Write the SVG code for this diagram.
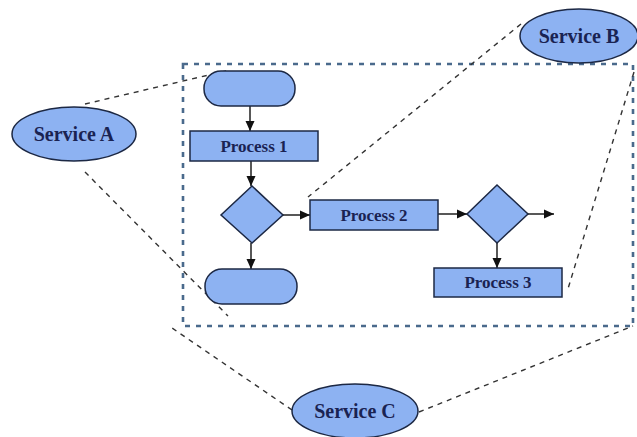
<svg xmlns="http://www.w3.org/2000/svg" width="637" height="437" viewBox="0 0 637 437">
<defs>
<marker id="ah" viewBox="0 0 10 10" refX="10" refY="5" markerWidth="10" markerHeight="10" markerUnits="userSpaceOnUse" orient="auto">
<path d="M0,0.5 L10,5 L0,9.5 Z" fill="#111"/>
</marker>
</defs>
<style>
.shape{fill:#8db2f2;stroke:#1c2844;stroke-width:1.5}
.lbl{font-family:"Liberation Serif","Times New Roman",serif;font-weight:bold;fill:#1a2352;text-anchor:middle}
.svc{font-size:20px}
.prc{font-size:17px}
.flow{stroke:#111;stroke-width:1.4;fill:none;marker-end:url(#ah)}
.link{stroke:#333;stroke-width:1.4;fill:none;stroke-dasharray:5,5}
.box{fill:none;stroke:#4a6a8c;stroke-width:2.6;stroke-dasharray:5,6}
</style>
<rect class="box" x="183" y="64" width="450" height="262"/>
<g id="connectors">
<line class="link" x1="85" y1="104" x2="230" y2="70"/>
<line class="link" x1="85" y1="172" x2="228" y2="316"/>
<line class="link" x1="521" y1="24" x2="308" y2="197"/>
<line class="link" x1="634" y1="72" x2="567" y2="292"/>
<line class="link" x1="292" y1="410" x2="172" y2="328"/>
<line class="link" x1="419" y1="412" x2="633" y2="326"/>
<line class="flow" x1="250" y1="106" x2="250" y2="131"/>
<line class="flow" x1="251" y1="161" x2="251" y2="186"/>
<line class="flow" x1="251" y1="243" x2="251" y2="269"/>
<line class="flow" x1="283" y1="215" x2="310" y2="215"/>
<line class="flow" x1="438" y1="214" x2="467" y2="214"/>
<line class="flow" x1="528" y1="214" x2="554" y2="214"/>
<line class="flow" x1="497" y1="243" x2="497" y2="268"/>
</g>
<g id="serviceA"><ellipse class="shape" cx="74" cy="134" rx="62" ry="27"/><text class="lbl svc" x="74" y="141">Service A</text></g>
<g id="serviceB"><ellipse class="shape" cx="579" cy="36" rx="59" ry="27"/><text class="lbl svc" x="579" y="43">Service B</text></g>
<g id="serviceC"><ellipse class="shape" cx="355" cy="411" rx="63" ry="27"/><text class="lbl svc" x="355" y="418">Service C</text></g>
<g id="start"><rect class="shape" x="204" y="71" width="91" height="35" rx="17"/></g>
<g id="process1"><rect class="shape" x="190" y="131" width="128" height="30"/><text class="lbl prc" x="254" y="152">Process 1</text></g>
<g id="decision1"><polygon class="shape" points="252,186 283,215 252,243 221,215"/></g>
<g id="end"><rect class="shape" x="205" y="269" width="92" height="35" rx="17"/></g>
<g id="process2"><rect class="shape" x="310" y="200" width="128" height="30"/><text class="lbl prc" x="374" y="221">Process 2</text></g>
<g id="decision2"><polygon class="shape" points="497,185 528,214 497,243 467,214"/></g>
<g id="process3"><rect class="shape" x="434" y="268" width="128" height="29"/><text class="lbl prc" x="498" y="288">Process 3</text></g>
</svg>
